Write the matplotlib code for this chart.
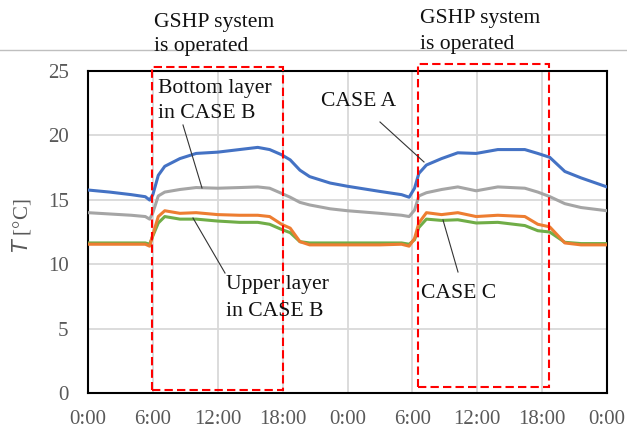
import matplotlib
matplotlib.use("Agg")
import matplotlib.pyplot as plt
from matplotlib.patches import Rectangle
from matplotlib.lines import Line2D

# ---- data (hours from start, temperatures in °C) ----
hours = [0, 2, 4, 5.3, 5.7, 6.0, 6.5, 7.1, 8.5, 10, 12, 14, 15.7, 16.8, 17.9, 18.7, 19.6, 20.5, 22.4, 24,
         27, 29, 29.7, 30.2, 30.6, 31.3, 32.7, 34.2, 35.9, 37.9, 40.4, 41.6, 42.7, 44.1, 45.6, 48]
case_a = [15.76, 15.6, 15.4, 15.24, 14.98, 15.4, 16.9, 17.6, 18.2, 18.6, 18.7, 18.9, 19.07, 18.9, 18.5, 18.1,
          17.3, 16.8, 16.3, 16.05, 15.65, 15.4, 15.2, 15.9, 17.05, 17.7, 18.2, 18.65, 18.6, 18.9, 18.9, 18.6,
          18.3, 17.2, 16.7, 16.0]
bottom_b = [14.0, 13.9, 13.8, 13.7, 13.5, 14.0, 15.3, 15.6, 15.8, 15.95, 15.9, 15.95, 16.0, 15.9, 15.5, 15.2,
            14.8, 14.6, 14.3, 14.15, 13.95, 13.8, 13.7, 14.2, 15.3, 15.55, 15.8, 16.0, 15.7, 16.0, 15.9, 15.6,
            15.25, 14.7, 14.4, 14.15]
upper_b = [11.55, 11.55, 11.55, 11.55, 11.4, 12.3, 13.7, 14.15, 13.95, 14.0, 13.85, 13.8, 13.8, 13.7, 13.1, 12.8,
           11.75, 11.5, 11.5, 11.5, 11.5, 11.55, 11.4, 12.0, 13.2, 14.0, 13.85, 14.0, 13.7, 13.8, 13.7, 13.1,
           12.9, 11.65, 11.5, 11.5]
case_c = [11.65, 11.65, 11.65, 11.65, 11.55, 12.2, 13.2, 13.7, 13.5, 13.5, 13.35, 13.25, 13.25, 13.1, 12.7, 12.45,
          11.75, 11.65, 11.65, 11.65, 11.65, 11.65, 11.55, 11.9, 12.85, 13.5, 13.4, 13.45, 13.2, 13.25, 13.0, 12.6,
          12.5, 11.7, 11.6, 11.6]
xticks = [0, 6, 12, 18, 24, 30, 36, 42, 48]
xtick_labels = ["0:00", "6:00", "12:00", "18:00", "0:00", "6:00", "12:00", "18:00", "0:00"]
yticks = [0, 5, 10, 15, 20, 25]
# operating periods (hours)
periods = [(5.92, 18.03, 0.23, 25.3), (30.52, 42.64, 0.47, 25.55)]

W, H = 627, 432
plt.rcParams['font.family'] = ['Liberation Serif', 'DejaVu Serif']
fig = plt.figure(figsize=(W / 100, H / 100), dpi=100)

def px(x, y):
    return (x / W, 1 - y / H)

# top page line
fig.add_artist(Line2D([0, 1], [1 - 50 / H, 1 - 50 / H], color="#bfbfbf", lw=1.0, transform=fig.transFigure))

ax = fig.add_axes([88 / W, 1 - 393 / H, (607 - 88) / W, (393 - 71) / H])
ax.set_xlim(0, 48)
ax.set_ylim(0, 25)
ax.set_xticks(xticks)
ax.set_xticklabels(xtick_labels)
ax.set_yticks(yticks)
ax.grid(True, color="#d9d9d9", lw=1.3)
ax.set_axisbelow(True)
ax.tick_params(length=0, labelsize=15, labelcolor="#595959")
ax.tick_params(axis="x", pad=12)
ax.tick_params(axis="y", pad=14)
for s in ax.spines.values():
    s.set_color("black")
    s.set_linewidth(1.5)

lw = 2.2
ax.plot(hours, case_c, color="#70AD47", lw=lw, zorder=3)
ax.plot(hours, upper_b, color="#ED7D31", lw=lw, zorder=3)
ax.plot(hours, bottom_b, color="#A5A5A5", lw=lw, zorder=3)
ax.plot(hours, case_a, color="#4472C4", lw=lw, zorder=3)

for x0, x1, y0, y1 in periods:
    ax.add_patch(Rectangle((x0, y0), x1 - x0, y1 - y0, fill=False, edgecolor="#FF0000",
                           lw=1.5, ls=(0, (4, 2)), clip_on=False, zorder=4))

ax.set_ylabel(r"$\it{T}$ [°C]", fontsize=15, color="#595959")
ax.yaxis.set_label_coords(-0.106, 0.52)

fs = 15.6
def txt(x, y, s):
    fig.text(*px(x, y), s, fontsize=fs, color="#111111", ha="left", va="center")

txt(154, 22, "GSHP system")
txt(154, 47, "is operated")
txt(420, 19, "GSHP system")
txt(420, 45, "is operated")
txt(158, 88, "Bottom layer")
txt(158, 113, "in CASE B")
txt(321, 102, "CASE A")
txt(226, 284, "Upper layer")
txt(226, 311, "in CASE B")
txt(421, 294, "CASE C")

def leader(x0, y0, x1, y1):
    fig.add_artist(Line2D([x0 / W, x1 / W], [1 - y0 / H, 1 - y1 / H], color="#333333", lw=0.8,
                          transform=fig.transFigure, zorder=5))

leader(183, 125, 202, 188)
leader(380, 122, 424, 162)
leader(193, 218, 225, 273)
leader(443, 220, 458, 272)

fig.savefig("out.png", dpi=100)
